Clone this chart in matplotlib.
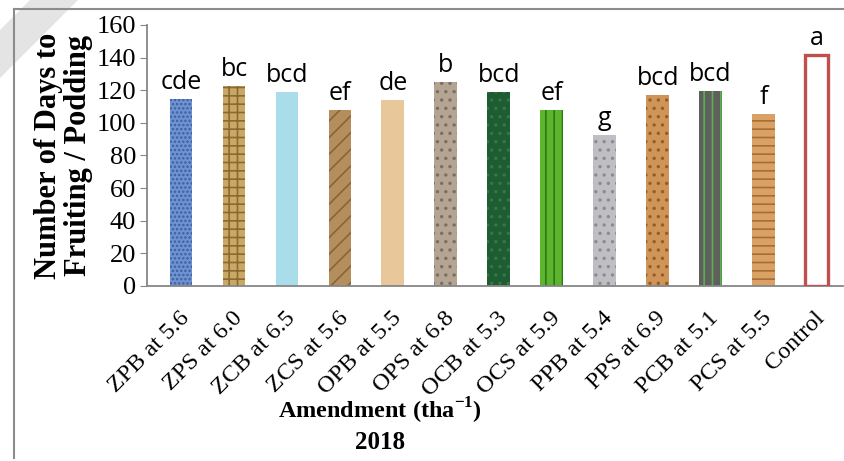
import matplotlib
matplotlib.use("Agg")
import matplotlib.pyplot as plt
import matplotlib.transforms as mtransforms
from matplotlib.patches import Polygon
from matplotlib.lines import Line2D

plt.rcParams['mathtext.fontset'] = 'custom'
plt.rcParams['mathtext.rm'] = 'Liberation Serif'
plt.rcParams['mathtext.bf'] = 'Liberation Serif:bold'
plt.rcParams['hatch.linewidth'] = 1.2

# --- datos ---
amendments = ["ZPB at 5.6", "ZPS at 6.0", "ZCB at 6.5", "ZCS at 5.6", "OPB at 5.5",
              "OPS at 6.8", "OCB at 5.3", "OCS at 5.9", "PPB at 5.4", "PPS at 6.9",
              "PCB at 5.1", "PCS at 5.5", "Control"]
days = [114.5, 122.5, 119, 108, 114, 125, 119, 108, 92.5, 117, 119.5, 105.5, 141.5]
letters = ["cde", "bc", "bcd", "ef", "de", "b", "bcd", "ef", "g", "bcd", "bcd", "f", "a"]
y_ticks = [0, 20, 40, 60, 80, 100, 120, 140, 160]

# colores de relleno (imitando las texturas de Excel)
face = ["#6f93d2", "#c9a865", "#a8dde9", "#b58e5d", "#e8c89b", "#b3a494", "#1f5c32",
        "#5cb52c", "#bebec3", "#cf9558", "#5f605c", "#d9a163", "white"]
hatch = ["....", "++", None, "//", None, "..", "..", "||", "..", "..", "||", "--", None]
hatch_col = ["#3d5f9e", "#8a6a32", None, "#8a6438", None, "#7d6d5d", "#2f7a45",
             "#2f7a18", "#8a8a90", "#9a5a28", "#58b050", "#a86c34", None]

fig = plt.figure(figsize=(8.44, 4.61), dpi=100)

# marca de agua diagonal y borde del gráfico
W, H = 844, 461
band = Polygon([(30 / W, 1), (78 / W, 1), (0, 1 - 78 / H), (0, 1 - 30 / H)],
               closed=True, transform=fig.transFigure, facecolor="#e4e4e4",
               edgecolor="none", zorder=0)
fig.patches.append(band)
fig.add_artist(Line2D([14 / W, 14 / W], [1 - 458 / H, 1 - 9 / H], transform=fig.transFigure,
                      color="#8c8c8c", lw=1.5))
fig.add_artist(Line2D([14 / W, 1], [1 - 9 / H, 1 - 9 / H], transform=fig.transFigure,
                      color="#8c8c8c", lw=1.5))

ax = fig.add_axes([147 / W, 1 - 286 / H, 696 / W, 261 / H])
ax.patch.set_alpha(0)
x = list(range(len(days)))
width = 0.43

for i in x:
    if amendments[i] == "Control":
        ax.bar(i, days[i], width=width, color="white", edgecolor="#c0504d", linewidth=2.4, zorder=3)
    else:
        ax.bar(i, days[i], width=width, color=face[i], edgecolor="none", zorder=2)
        if hatch[i]:
            ax.bar(i, days[i], width=width, fill=False, hatch=hatch[i],
                   edgecolor=hatch_col[i], linewidth=0, zorder=2.5)
    ax.annotate(letters[i], (i, days[i]), xytext=(0, 3), textcoords="offset points",
                ha="center", va="bottom", fontsize=18, family="Open Sans", color="black")

ax.set_xlim(-0.643, 12.5)
ax.set_ylim(0, 160)
ax.set_yticks(y_ticks)
ax.set_yticklabels([str(t) for t in y_ticks], family="Liberation Serif", fontsize=19)
ax.set_xticks(x)
ax.set_xticklabels(amendments, rotation=45, ha="right", va="center", rotation_mode="anchor",
                   family="Liberation Serif", fontsize=17.5)
ax.tick_params(axis="x", length=0, pad=21)
ax.tick_params(axis="y", length=5, color="#868686", direction="out", pad=3)
# desplazar un poco las etiquetas del eje x hacia la derecha
shift = mtransforms.ScaledTranslation(5 / 100, 0, fig.dpi_scale_trans)
for lab in ax.get_xticklabels():
    lab.set_transform(lab.get_transform() + shift)

for s in ["top", "right"]:
    ax.spines[s].set_visible(False)
for s in ["left", "bottom"]:
    ax.spines[s].set_color("#868686")
    ax.spines[s].set_linewidth(1.3)

ax.set_ylabel("Number of Days to\nFruiting / Podding", family="Liberation Serif",
              fontweight="bold", fontsize=22, linespacing=1.05, labelpad=2)

fig.text(380 / W, 1 - 411 / H, r"Amendment (tha$^{\mathbf{-1}}$)", ha="center", va="center",
         family="Liberation Serif", fontweight="bold", fontsize=17.5)
fig.text(380 / W, 1 - 442 / H, "2018", ha="center", va="center",
         family="Liberation Serif", fontweight="bold", fontsize=18)

fig.savefig("out.png", dpi=100)
